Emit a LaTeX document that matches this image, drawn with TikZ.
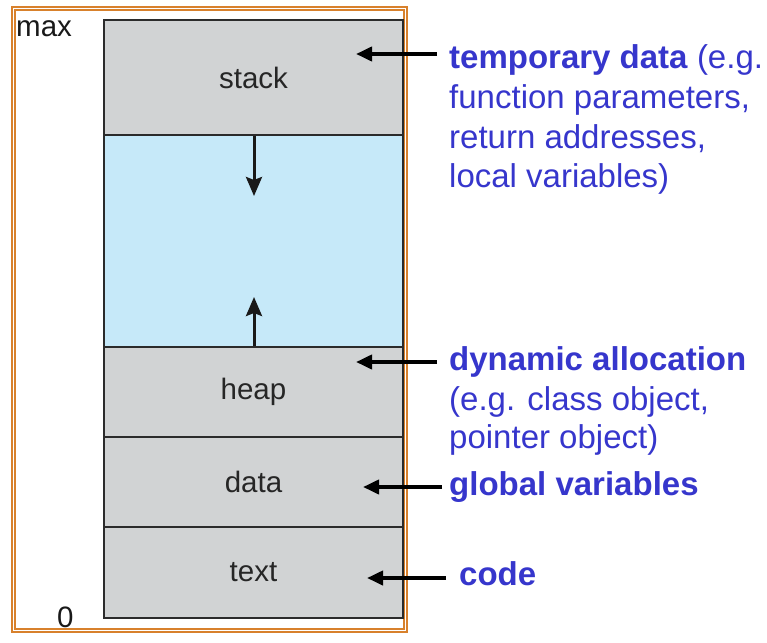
\documentclass[tikz,border=0pt]{standalone}
\usepackage{fontspec}
\setmainfont{Liberation Sans}
\usetikzlibrary{arrows.meta}

\definecolor{segGray}{HTML}{D1D3D4}
\definecolor{freeBlue}{HTML}{C6E9F9}
\definecolor{frameOrange}{HTML}{D8812C}
\definecolor{noteBlue}{HTML}{3636CC}
\definecolor{lineDark}{HTML}{2B2B2B}

\tikzset{
  seg/.style={draw=lineDark, line width=1.5pt, minimum width=299pt, inner sep=0pt,
    font=\fontsize{29.5}{34}\selectfont, text=black!85},
  note/.style={anchor=base west, inner sep=0pt, text=noteBlue, font=\fontsize{33}{40}\selectfont},
  bound/.style={anchor=base west, inner sep=0pt, font=\fontsize{29.5}{34}\selectfont, text=black!90},
  pointer/.style={line width=3.8pt, -{Triangle[length=16pt,width=14pt]}},
  growth/.style={draw=black!90, line width=3pt,
    -{Stealth[length=19pt,width=16pt,inset=3pt]}},
  frameline/.style={draw=frameOrange, line width=1.4pt}
}

\begin{document}
\begin{tikzpicture}[x=1pt,y=-1pt]
  \useasboundingbox (0,0) rectangle (767,642);

  % double outer frame
  \draw[frameline] (12,7) rectangle (407,632);
  \draw[frameline] (15,10) rectangle (404,629);

  % memory segments
  \node[seg, fill=segGray,  minimum height=115pt] (stack) at (253.5,77.5) {stack};
  \node[seg, fill=freeBlue, minimum height=212pt] (free)  at (253.5,241)  {};
  \node[seg, fill=segGray,  minimum height=90pt]  (heap)  at (253.5,392)  {heap};
  \node[seg, fill=segGray,  minimum height=90pt]  (data)  at (253.5,482)  {data};
  \node[seg, fill=segGray,  minimum height=91pt]  (text)  at (253.5,572.5) {text};

  % address bounds
  \node[bound] (max)  at (16,37)  {max};
  \node[bound] (zero) at (57,627) {0};

  % growth directions
  \coordinate (downtip) at (254,196);
  \coordinate (uptip)   at (254,297);
  \draw[growth] (stack.south -| downtip) -- (downtip);
  \draw[growth] (heap.north -| uptip) -- (uptip);

  % descriptions
  \node[note] (tmp1) at (449,68)  {\textbf{temporary data} (e.g.};
  \node[note] (tmp2) at (449,108) {function parameters,};
  \node[note] (tmp3) at (449,148) {return addresses,};
  \node[note] (tmp4) at (449,187) {local variables)};

  \node[note] (dyn1) at (449,370) {\textbf{dynamic allocation}};
  \node[note] (dyn2) at (449,410) {(e.g. class object,};
  \node[note] (dyn3) at (449,448) {pointer object)};

  \node[note] (glob) at (449,495) {\textbf{global variables}};
  \node[note] (code) at (459,585) {\textbf{code}};

  % pointers into the segments
  \coordinate (sTail) at (437,54);  \coordinate (sTip) at (356,54);
  \coordinate (hTail) at (437,362); \coordinate (hTip) at (356,362);
  \coordinate (dTail) at (442,487); \coordinate (dTip) at (363,487);
  \coordinate (cTail) at (446,578); \coordinate (cTip) at (367,578);
  \draw[pointer] (sTail) -- (sTip);
  \draw[pointer] (hTail) -- (hTip);
  \draw[pointer] (dTail) -- (dTip);
  \draw[pointer] (cTail) -- (cTip);
\end{tikzpicture}
\end{document}
